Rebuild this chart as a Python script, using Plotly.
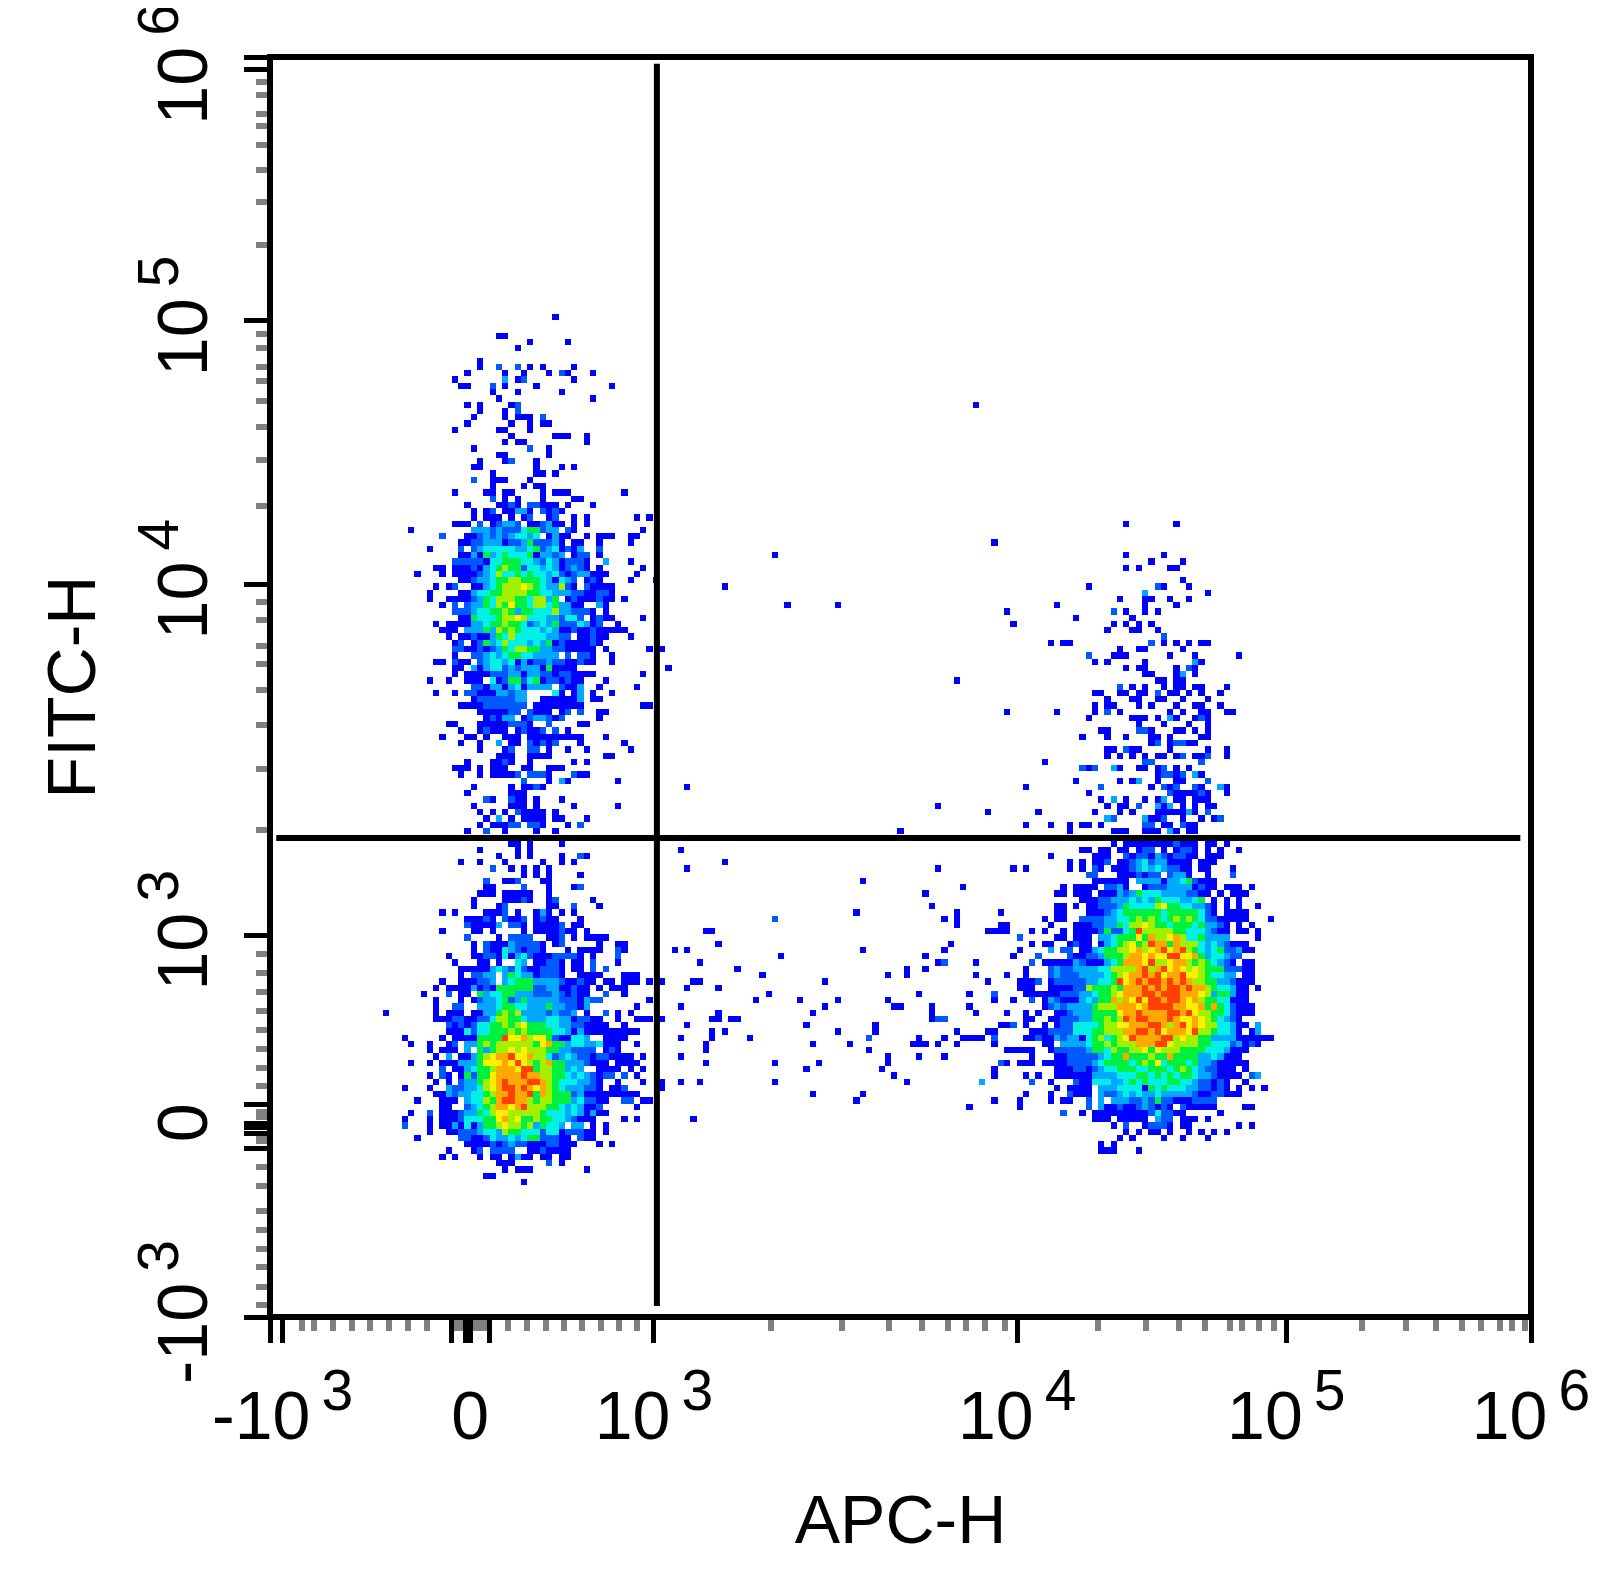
import numpy as np
import plotly.graph_objects as go

# display channels of the pseudocolor plot: 201 x 201 bins
n_bins = 201

# density level per bin, '.' = empty, 1 = blue ... 9 = red (spaces only help counting)
left_first_col = 16
left_top_row = 159
left_rows = [
    ".......... .......... .........1 .......... ........",
    "",
    "",
    ".......... .......... 11........ .......... ........",
    ".......... .......... .....1.... .1........ ........",
    ".......... .......... ...1...... .......... ........",
    "",
    ".......... .......1.. .......... .......... ........",
    ".......... .......1.. 2..2.1.1.. ..1....... ........",
    ".......... .....1.... .1..1...1. 21...1.... ........",
    ".......... ...1...... .3.12..... ..1....... ........",
    ".......... ....11...2 .1....1... ........1. ........",
    ".......... .........1 ...1...... 1......... ........",
    ".......... .......... 1......... .....1.... ........",
    ".......... .....1.1.. ..12...... .......... ........",
    ".......... .......1.. .1.2...... .......... ........",
    ".......... ......1... .1.111.2.. .......... ........",
    ".......... .....1.... ..1..1.11. .......... ........",
    ".......... ...1...... 11...1.... .......... ........",
    ".......... .......... ..1......1 11..1..... ........",
    ".......... .......... .1.11..... ....1..... ........",
    ".......... ......1... .....2..1. .......... ........",
    ".......... .......... 11......1. .......... ........",
    ".......... .......1.. .12...1... .......... ........",
    ".......... ......11.. ......1... 1.1....... ........",
    ".......... .........1 ......11.1 .......... ........",
    ".......... ......2..1 11...1.... .......... ........",
    ".......... .........1 ....1.11.. .......... ........",
    ".......... ...1....11 .11....1.1 11........ 1.......",
    ".......... .........2 .1.1...1.. ..11...... ........",
    ".......... .....1.... 1121.22111 .1...1.... ........",
    ".......... ......1.12 .11331.212 1......... ........",
    ".......... ......1.11 1.1.12..12 ..1.1..... ..1.1...",
    ".......... ...111.2.1 2332.11231 1.1.1..... ........",
    "......1... ......3332 3222455233 .21....... ...1....",
    ".......... .2...11232 3234434.13 11..1.111. .11.....",
    ".......... ....112233 3122352223 1.11..1... .1......",
    ".........1 ....2.2344 4443345234 1213..2... ........",
    ".......... ....113153 4544451332 3.122.1... ........",
    ".......... ...2222214 4555443243 12221..3.. .1......",
    ".......... 11.1112134 5655244343 12321.1... ...1....",
    ".......1.. .1.1111234 6445454434 21233111.. ..1.....",
    ".......... ....112334 5566555431 432.121... .1...1..",
    ".......... 1.12..1134 5666765433 621.21111. ........",
    ".........1 ....113445 5666655443 332211221. ........",
    ".........1 ..11112354 6665546635 .12111211. 1.......",
    ".......... .1.2.23354 6575546645 3311..31.. ........",
    ".......... ...2223445 5653554446 332221.1.. ........",
    ".......... ....115444 5667644433 2442.1211. ...1....",
    ".......... 1.11113345 5655423435 2224312..1 ........",
    ".......... .111.33353 6565444343 1121121111 1.......",
    ".......... ..1.112113 5464444433 22.11211.. .1......",
    ".......... ...12.1253 4644434351 2111121... ........",
    ".......... ...2211212 3546655332 211111.1.. ....1.1.",
    ".......... ...1..2234 3455443333 .2.221..1. ........",
    ".......... 11.211.234 4341312232 211211..1. ........",
    ".......... ...11.3134 4232333151 111....... .......1",
    ".......... ...1.11112 2233133221 221111.... ...1....",
    ".........1 ..1..111.4 1255245122 1211...1.. ........",
    ".......... ......2213 313413333. 2113..1... ..1.....",
    ".......... 1..1.22111 33233....4 1.13.1..1. ........",
    ".......... ......1222 22233..111 1113.11... ........",
    ".......... ....111122 22222.1111 1111...... ...11...",
    ".......... .......111 1122.2111. 12.2..11.. ........",
    ".......... ........12 133.123321 2.....1... ........",
    ".......... ..11...111 112221..2. ...11..... ........",
    ".......... ....1..121 11.12112.2 .1........ ........",
    ".......... .1...11.1. .111.11111 1111...1.. ........",
    ".......... ....1..1.. 3.11.21212 ...1...... 1.......",
    ".......... .......1.. .12..22.1. .1..1..... .1......",
    ".......... .......... 111..1111. .......11. ........",
    ".......... .....1...1 121..1.... ..1.1..... ........",
    ".......... ...111.1.1 11..11..11 1......... ........",
    ".......... ....1..1.1 1112.2221. ..211..... ........",
    ".......... .......... ....2...1. 31.......1 ........",
    ".......... ......1... ..1.1121.. .......... ........",
    ".......... .....1.... ..111..... .......... ........",
    ".......... ........21 ..211.1... 1......... ........",
    ".......... ......1... ..111.1... ..1......1 ........",
    # below row 81
    ".......... .......1.1 .1.21111.1 .......... ........",
    ".......... ........1. 3.1.1111.1 1...1..... ........",
    ".......... .......1.1 1122.221.. .1.2...... ........",
    ".......... .....1..2. .1....1..1 .......... ........",
    "",
    ".......... .......... ..11.1.... 1......... ........",
    ".......... .......1.. ...1.1.... .......... ........",
    ".......... .......... 1..1.1.... 1..21..... ........",
    ".......... ....1..1.. .1.....1.. 1.1....... ........",
    ".......... .........2 ..1.1.1.1. .......... ........",
    ".......... .......... ....1.1.1. ...1...... ........",
    ".......... ........2. .112...11. .......... ........",
    ".......... ........11 ....2...1. ..12...... ........",
    ".......... .......111 .11111..1. .......... ........",
    ".......... ......1... .11121..12 .....1.... ........",
    ".......... ......1... 12......11 ..2...1... ........",
    ".......... .1.1....11 12.1..131. 1.1....... ........",
    ".......... .....11121 .2112.1211 ...1...... ........",
    ".......... .....21111 3.221.1111 2.11...... ........",
    ".......... .1....11.1 ....1.1111 211.1..... ........",
    ".......... .....2.... 1.2222..11 2.1.1111.. ........",
    ".......... ......1.21 11322221.1 2.....1..1 1.......",
    ".......... ......1.21 14321221.. .1.1111..2 1.......",
    ".......... ..1...1122 1413421112 2221.1...2 ........",
    ".......... ...1...11. 1..43.1122 1.11.2...1 ........",
    ".......... ....111113 4324211222 1.11.2.2.. ........",
    ".......... ....1.2233 .354331222 1..1111... 111.....",
    ".......... .1..111223 .345553333 211211.11. 111.1.1.",
    ".......... 1.11113121 5555552233 11211.1.11 1.......",
    "........1. ..2.11.534 4553332223 21211..2.. 1.......",
    ".......... 1...1.1233 4523533333 2221322... ....1...",
    ".......... 1..22..333 4554433353 32213..... ..1.....",
    "..1....... 1.111.1133 5656333323 223.1..2.1 .1......",
    ".......... 1112211224 6655433344 3312211..1 ..111.1.",
    ".......... ..21212445 5656755544 33221111.. 1.......",
    ".......... ..11142445 5565655554 4313111111 111.....",
    ".....1.... .1.1111555 5977867752 11443..111 1.......",
    "......1..1 ..12.33565 6666665785 5344334111 ..1.....",
    ".........1 .111.3.535 6676766655 332222.121 ........",
    ".......... 1.3.113567 8897786642 3432212211 11.1....",
    "......1..1 .111333577 7879765685 53332111.1 111.....",
    ".......... .2.1134556 8887995665 5343..1111 .1.1....",
    ".........1 .21.152557 8888988665 543432122. 2.1.....",
    ".......... 1.1.233567 8988899865 4443321..1 ...1..1.",
    ".....1...1 ..32233467 8998987865 4333221.11 2.....1.",
    ".......... 1132334456 8898895865 5523111111 111.....",
    ".......1.. .111.34465 8998865665 55342211.. 22.11...",
    ".......... .11..23456 8878966655 4343112... ..1.....",
    "......1..2 .111233546 7766666544 43431311.. ........",
    ".....1...1 .111244455 7867556554 432111.... 1.1.....",
    ".....2...1 .113141355 6766563544 3.33.1.1.. ........",
    ".........1 ..11222344 3655444244 122211.1.. ........",
    ".......1.. ....221124 3343455222 11.211.... ........",
    ".......... .....11112 1232211122 111...1.1. ........",
    ".......... ..1...12.2 222..11211 11........ ........",
    ".......... .1.1...1.1 1.1311.11. 11........ ........",
    ".......... .......... 111.....2. 1......... ........",
    ".......... .......... .1.111.... ....1..... ........",
    ".......... ........11 .......... .......... ........",
    ".......... .......... ....1..... .......... ........",
]

right_first_col = 117
right_top_row = 126
right_rows = [
    ".......... .........1 .......1.. .......... ...",
    "",
    "",
    "",
    "",
    ".......... .........1 .....1.... .......... ...",
    ".......... .......... ...1....1. .......... ...",
    ".......... .........1 .1....11.. .......... ...",
    "",
    ".......... .......... ........1. .......... ...",
    ".......... ...1...... ....21...1 .......... ...",
    ".......... .......... ..3....... ..1....... ...",
    ".......... ........1. ..11..1..1 .......... ...",
    "........1. .......... ..1....1.. .......... ...",
    "1......... .......2.1 ..1.1..... .......... ...",
    ".......... .1........ 1......... .......... ...",
    ".1........ .......1.1 .1.1...... .......... ...",
    ".......... ......1... 11..1..... .......... ...",
    ".......... .......... .....2.... .......... ...",
    ".......1.1 1......... ...2.1.1.1 .11....... ...",
    ".......... ........1. .11.....1. .......... ...",
    ".......... ...2...111 ......1... 1......1.. ...",
    ".......... ....1.1... ..1....... 31........ ...",
    ".......... .........1 .11....1.2 1......... ...",
    ".......... .......... ..11...13. 1......... ...",
    ".......... .......... ....11.11. .......... ...",
    ".......... ........2. 1.1..1.11. 11...1.... ...",
    ".......... ....11..11 .11.2.11.1 .1..1..... ...",
    ".......... ......1... 11..11..1. ..1....... ...",
    ".......... ....1.11.. .1.1...1.. 11..1..... ...",
    "1.......1. ....1.2.1. ......1.1. .11..11... ...",
    ".......... ...1...... 111.1.31.. 121....... ...",
    ".......... .......... .1...1...1 ..1....... ...",
    ".......... .....11... .221...11. 1.1....... ...",
    ".......... ..1...1..1 ...11.1... .11....... ...",
    ".......... .......... ...12.1221 1......... ...",
    ".......... ......11.2 11....1... ..1..1.... ...",
    ".......... ......1.1. 1.1.11.12. 112..1.... ...",
    "......1... .......... ..22...... .2........ ...",
    ".......... ..212..31. .11.12.1.1 .......... ...",
    ".......... .......... ....12212. 31........ ...",
    ".......... .1......1. 13..1..11. ..2....... ...",
    "...1...... .....2.... ...1.212.. 21..31.... ...",
    ".......... ...1...... ......2111 121..1.... ...",
    ".......... .....1.3.1 ..1.13.11. 111....... ...",
    ".......... ......1.11 .2..313.1. 1.11...... ...",
    ".....1.... ....1...1. 1...111113 1.2....... ...",
    ".......... ......32.. ..3112..1. .1.12..... ...",
    "...1...1.. 1.11.1.... ..22.11.21 1......... ...",
    ".......... 1......111 ..111.31.1 1......... ...",
    "",
    ".......... .......1.1 1111111211 1.11.1.... ...",
    ".......... ..11.11.11 .122.1.122 1.1.1..1.. ...",
    ".......1.. ....111..2 1221321221 1.111..... ...",
    ".......... 1.1.112.11 2342331111 .111...... ...",
    ".1.1...... 1.1.21.111 2343432211 .11...1... ...",
    ".......... ...22...11 12122.2331 ..1...2... ...",
    ".......... ....111111 .333313345 2111...... ...",
    ".........1 .1111.2231 ..12223333 1211.111.1 ...",
    "........11 .111.11132 3544433332 211.1.111. ...",
    ".......... ..11122333 4343544433 45.1.1.1.. ...",
    "........11 .1.1122235 4444675544 3321.1.1.. 1..",
    "........11 ...1112345 5555545555 5421.1111. ...",
    "......1.11 ..22223344 5656545656 542211111. ..1",
    "1......1.. .111223354 6676554555 453321.1.1 ...",
    "1...1.1..1 .111125224 5966666554 443211.11. 1..",
    "..2.....11 .111.33455 5758667864 453333.... 1..",
    "....1.11.. 1211.13456 7569885866 643432111. ...",
    "..1....3.2 2.11345566 7867897896 5434522311 ...",
    ".1...2.... 2112235556 8878779977 85344322.. ...",
    "....2.1111 1321113458 8879667886 5654321.11 ...",
    "...1...232 2333344666 6896897876 7655522211 ...",
    "1..1...232 2233334567 8898978897 7654433.11 ...",
    "..1112.122 2223344597 8989989898 6655332111 ...",
    "..111..111 1226555658 8898989989 886544311. 1..",
    "...1111112 2233455678 8899899988 876355311. ...",
    ".1..2.1321 1134355868 7979989987 865544111. ...",
    "......1232 3333566688 8789999887 7858542111 ...",
    "1..1.1..11 2333555578 8988889989 7665542111 ...",
    "...11..112 2233556569 8998889877 87654321.. ...",
    "12.1..1.12 2444456677 8889986897 876644311. 3..",
    "....111222 2444556668 8998978887 96654431.1 3..",
    "...1121132 3314564567 9888899676 6553333111 111",
    "......11.3 3334556566 6888997666 6554442312 1..",
    "11111..122 2223554655 6675766655 554443111. ...",
    "....1...11 2222234558 5556558555 53343111.. ...",
    "1.111.1111 2222345555 4565745554 533211111. ...",
    "........11 1221234455 5445554565 4322111.1. ...",
    "...1.1..11 1111333344 4554545455 43321111.2 3..",
    "....2..1.. .211444334 5454445544 322121..1. ...",
    "........1. 1111.33344 4415454443 322121.1.1 .1.",
    "...1...1.. 2111.32234 3433433333 21122111.. ...",
    "..1....1.1 1..2.3.333 2232522111 2222...... ...",
    "..1....... ...2.31121 1232121.21 1111....11 ...",
    ".........2 ..1.111111 111242211. ....1..... ...",
    ".......... ....111.11 111.322.11 1.1....... ...",
    ".......... .......1.2 ..12221.11 .......1.1 ...",
    ".......... .........1 .1.11.1..1 .1.1.1.... ...",
    ".......... ........1. 1....1..1. ..1....... ...",
    ".......... .....1.1.. .......... .......... ...",
    ".......... .....111.. .1........ .......... ...",
]

# lone events between the clusters, all level 1 unless listed in sparse_light_*
sparse_rows = [145, 123, 121, 116, 113, 101, 84, 81, 80, 77, 74, 72, 71, 69, 68, 67, 65, 64, 63,
               62, 61, 59, 58, 57, 56, 55, 54, 53, 52, 51, 50, 49, 48, 47, 46, 45, 44, 43, 42,
               41, 40, 39, 38, 37, 35, 34, 33, 31]
sparse_cols = [[112], [115], [80], [72], [82, 90], [109], [66], [106], [114], [100], [65], [72],
               [66, 106], [94], [110], [104], [105], [93, 109, 116], [107, 109], [109, 116],
               [69, 70, 114, 115, 116], [71, 108], [64, 66, 94, 107], [81, 104],
               [68, 106, 112], [74, 101, 104], [78, 98, 101, 112], [67, 68, 88, 114], [66, 71],
               [79, 103, 111], [77, 84, 90, 98, 115], [65, 88, 99, 100, 105, 111],
               [71, 86, 105, 112], [70, 71, 73, 74, 105], [66, 85, 96, 116],
               [70, 72, 90, 96, 109, 114, 115], [65, 70, 76, 103, 107, 110, 111, 112, 113],
               [69, 86, 92, 102, 103, 104, 106, 109, 115], [69, 95], [65, 98, 103, 107],
               [69, 80, 87, 98], [85, 97, 115], [99, 115], [65, 68, 80, 101], [86, 94],
               [93, 115], [111], [67]]
sparse_light_cols = [80, 107, 115, 106, 107, 95, 115, 116, 113]
sparse_light_rows = [63, 56, 51, 47, 47, 44, 44, 40, 37]
sparse_light_levels = [2, 2, 2, 2, 2, 2, 2, 2, 3]

level_colors = ["#0000ff", "#0058ff", "#00a8ff", "#00f0e8", "#00f040",
                "#a0f000", "#fff000", "#ffa800", "#ff4000"]


def power(n):
    # exponent sits apart from the 10 and is nearly as big as it
    return (f'10<sup><span style="font-size:40px">\u00a0</span>'
            f'<span style="font-size:57px">{n}</span></sup>')


small_gap = '<span style="font-size:40px">\u00a0</span>'

# labelled ticks, in display channels
x_major = [2.0, 31.9, 61.2, 119.1, 162.0, 201]
x_major_text = ["-" + power(3), "0", power(3), power(4), power(5), power(6)]
y_major = [0, 29.3, 60.9, 116.9, 158.9, 199]
# the small trailing gap moves the rotated labels a little off their ticks, as in the original
y_major_text = ["-" + power(3) + small_gap, "0", power(3) + small_gap, power(4) + small_gap,
                power(5) + small_gap, power(6) + small_gap]
# black ticks without a label
x_extra = [0, 29.0, 31.1, 35.0]
y_extra = [26.9, 30.2, 30.9, 33.9, 200.96]
# grey ticks
x_minor = [5.06, 7, 10, 13, 16, 19, 22, 25, 29.5, 30.3, 32.7, 33.5, 34.1, 38, 41, 44, 46.9, 49.8,
           52.8, 55.7, 58.5, 79.9, 91.2, 98.7, 104, 108, 111, 114, 117.1, 132, 139.6, 144.9, 149,
           153, 155, 157.7, 160, 174, 181, 185.9, 190, 193, 196, 198, 200]
y_minor = [1.9, 4.8, 7.9, 10.8, 13.9, 16.9, 20.9, 23.9, 28, 28.9, 31.9, 32.7, 36.8, 39.7, 42.7,
           45.8, 48.8, 51.8, 54.9, 57.9, 77.7, 87.4, 94.4, 100, 104.1, 107, 111.2, 114, 129.3,
           136.7, 142, 146.1, 149.3, 151.5, 154.5, 156.8, 170.9, 177.9, 182.9, 186.9, 190, 191.9,
           194.9, 196.9]

# quadrant gate
gate_v_x = [61.67, 61.67]
gate_v_y = [1.75, 199.9]
gate_h_x = [1, 199.3]
gate_h_y = [76.4, 76.4]

z = np.full((n_bins, n_bins), np.nan)


def paint(rows, first_col, top_row):
    for i, row in enumerate(rows):
        for j, ch in enumerate(row.replace(" ", "")):
            if ch != ".":
                z[top_row - i, first_col + j] = int(ch)


paint(left_rows, left_first_col, left_top_row)
paint(right_rows, right_first_col, right_top_row)
for r, cols in zip(sparse_rows, sparse_cols):
    for c in cols:
        z[r, c] = 1
for c, r, lev in zip(sparse_light_cols, sparse_light_rows, sparse_light_levels):
    z[r, c] = lev

colorscale = []
for i, col in enumerate(level_colors):
    colorscale.append([i / 9, col])
    colorscale.append([(i + 1) / 9, col])

fig = go.Figure()
fig.add_trace(go.Heatmap(z=z, x=np.arange(n_bins) + 0.5, y=np.arange(n_bins) + 0.5,
                         zmin=0.5, zmax=9.5, colorscale=colorscale, showscale=False,
                         hoverongaps=False))
# the gate lives on the overlay axes, which carry the unlabelled black ticks
fig.add_trace(go.Scatter(x=gate_v_x, y=gate_v_y, mode="lines", line=dict(color="black", width=6),
                         xaxis="x2", yaxis="y2", showlegend=False))
fig.add_trace(go.Scatter(x=gate_h_x, y=gate_h_y, mode="lines", line=dict(color="black", width=6),
                         xaxis="x2", yaxis="y2", showlegend=False))

font = "Liberation Sans, Arial, sans-serif"
fig.update_layout(
    xaxis=dict(range=[0, 201], showgrid=False, zeroline=False, showline=False, automargin=False,
               tickmode="array", tickvals=x_major, ticktext=x_major_text,
               ticks="outside", ticklen=25, tickwidth=5, tickcolor="black",
               ticklabelstandoff=14, tickangle=0, ticklabeloverflow="allow",
               tickfont=dict(family=font, size=68, color="black"),
               minor=dict(tickmode="array", tickvals=x_minor, ticks="outside",
                          ticklen=13, tickwidth=5.5, tickcolor="#808080"),
               title=dict(text="APC-H", standoff=43, font=dict(family=font, size=68, color="black"))),
    yaxis=dict(range=[0, 200.96], showgrid=False, zeroline=False, showline=False, automargin=False,
               tickmode="array", tickvals=y_major, ticktext=y_major_text,
               ticks="outside", ticklen=25, tickwidth=5, tickcolor="black",
               ticklabelstandoff=9, tickangle=-90, ticklabeloverflow="allow",
               tickfont=dict(family=font, size=70, color="black"),
               minor=dict(tickmode="array", tickvals=y_minor, ticks="outside",
                          ticklen=13, tickwidth=5.5, tickcolor="#808080"),
               title=dict(text="FITC-H", standoff=7, font=dict(family=font, size=68, color="black"))),
    xaxis2=dict(range=[0, 201], overlaying="x", anchor="y2", side="bottom", showgrid=False,
                zeroline=False, showline=False, showticklabels=False, automargin=False,
                tickmode="array", tickvals=x_extra, ticks="outside", ticklen=25, tickwidth=5,
                tickcolor="black"),
    yaxis2=dict(range=[0, 200.96], overlaying="y", anchor="x2", side="left", showgrid=False,
                zeroline=False, showline=False, showticklabels=False, automargin=False,
                tickmode="array", tickvals=y_extra, ticks="outside", ticklen=25, tickwidth=5,
                tickcolor="black"),
    width=1596, height=1558, margin=dict(l=262, r=73, t=49, b=249),
    plot_bgcolor="white", paper_bgcolor="white", showlegend=False,
)
fig.add_shape(type="rect", xref="paper", yref="paper", x0=0, x1=1, y0=0, y1=1,
              line=dict(color="black", width=6), layer="above")

fig.write_html("out.html")
